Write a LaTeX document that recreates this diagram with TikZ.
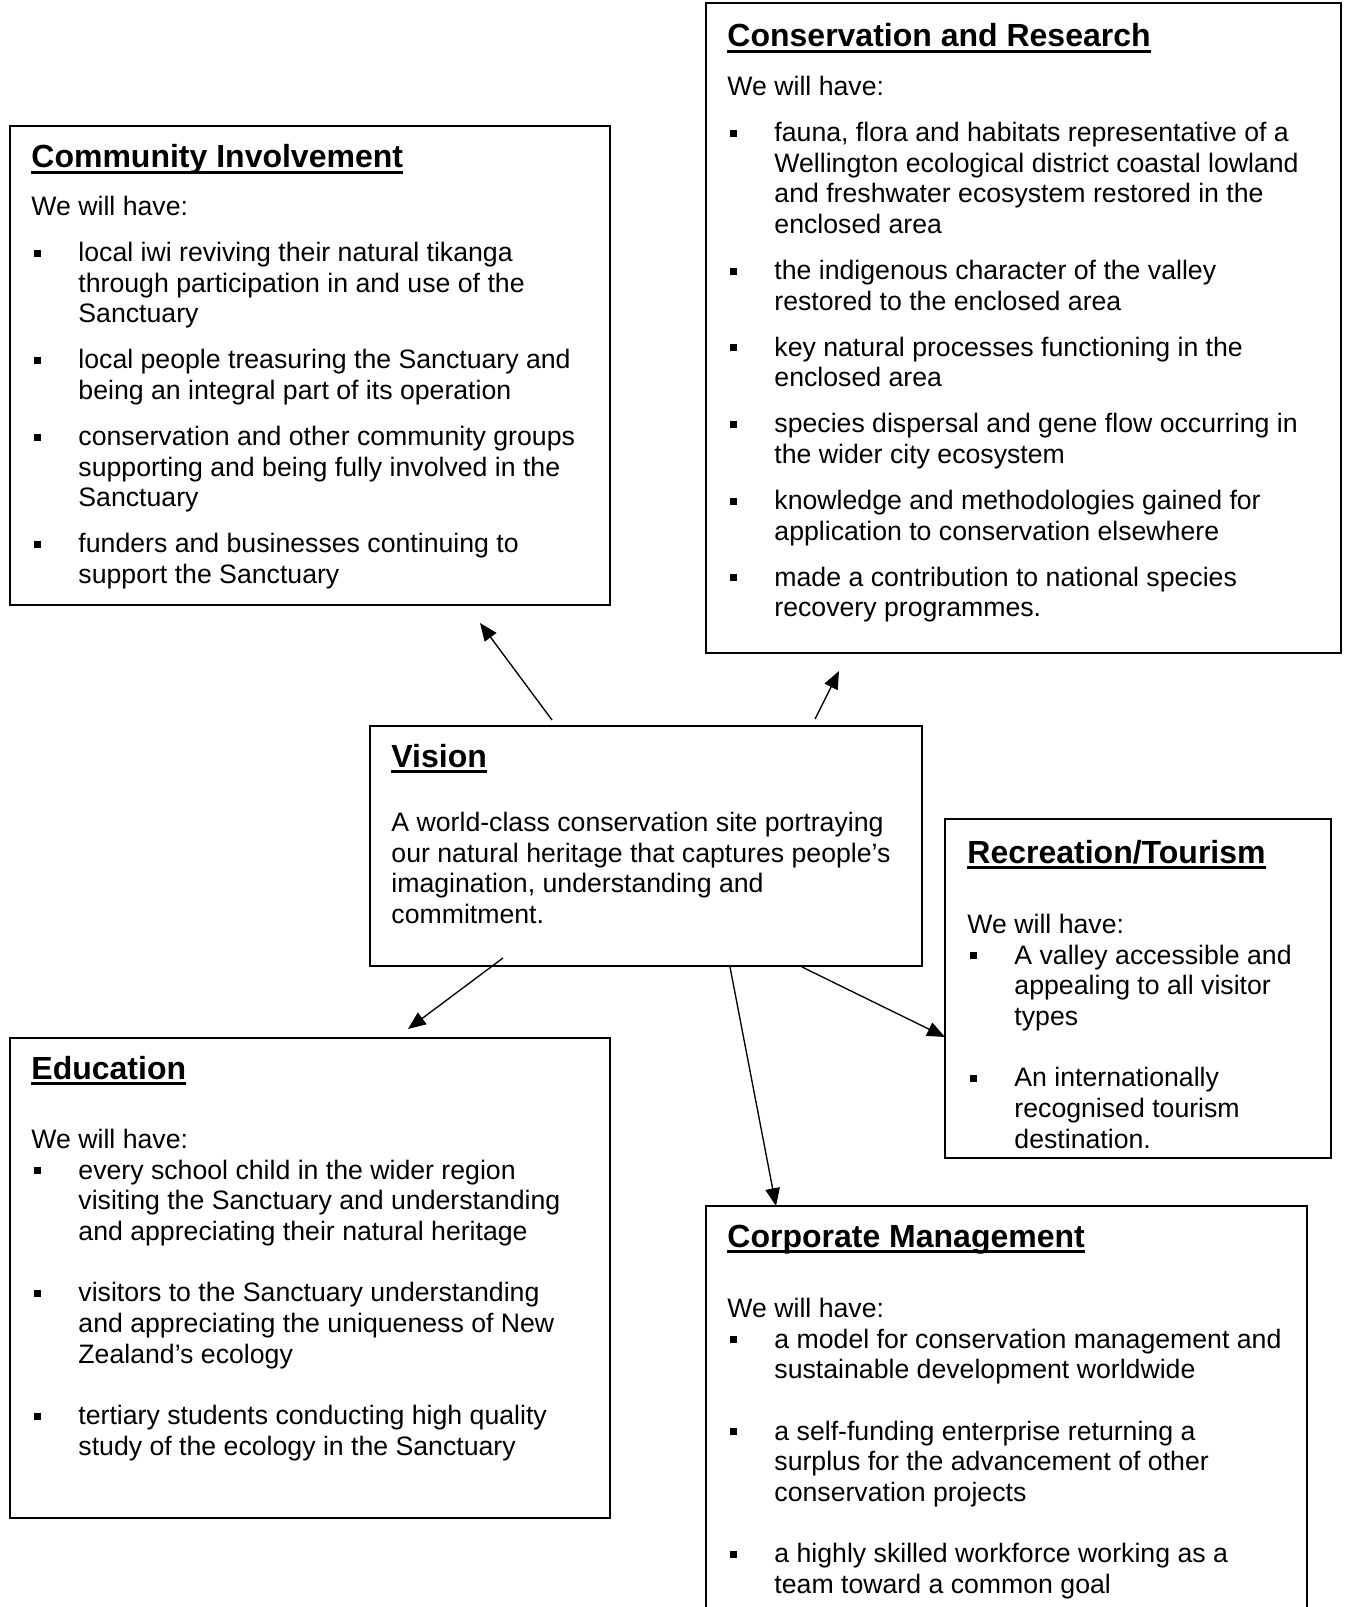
\documentclass[tikz,border=0pt]{standalone}
\usepackage{fontspec}
\setmainfont{Liberation Sans}
\usetikzlibrary{arrows.meta, fit}

% underlined heading, bullet and hanging indent
\newcommand\headline[1]{\setbox0\hbox{#1}\rlap{\rule[-2.6pt]{\wd0}{1.1pt}}\box0}
\newcommand\bul{\makebox[21.15pt][l]{\hspace{1pt}\rule[2.2pt]{3.1pt}{3.1pt}}}
\newcommand\cont{\hspace*{21.15pt}}
\newcommand\topline{\rule{0pt}{10pt}}

\begin{document}
\begin{tikzpicture}[x=0.45pt, y=-0.45pt,
  box/.style={draw, line width=0.8pt, inner sep=0pt},
  head/.style={anchor=base west, inner sep=0pt, font=\fontsize{14.4}{16}\selectfont\bfseries},
  body/.style={anchor=north west, yshift=10pt, inner sep=0pt, align=left, font=\fontsize{12}{13.8}\selectfont},
  arr/.style={-{Triangle[length=8pt, width=6.5pt]}, line width=0.6pt}
]
\useasboundingbox (0,0) rectangle (1345,1607);

% Community Involvement
\node[box, fit={(10,126) (610,605)}] (comm) {};
\node[head] (comm-title) at (31,168) {\headline{Community Involvement}};
\node[body] (comm-body) at (31,215) {\topline We will have:\\[6.9pt]
  \bul local iwi reviving their natural tikanga\\
  \cont through participation in and use of the\\
  \cont Sanctuary\\[6.9pt]
  \bul local people treasuring the Sanctuary and\\
  \cont being an integral part of its operation\\[6.9pt]
  \bul conservation and other community groups\\
  \cont supporting and being fully involved in the\\
  \cont Sanctuary\\[6.9pt]
  \bul funders and businesses continuing to\\
  \cont support the Sanctuary};

% Conservation and Research
\node[box, fit={(706,3) (1341,653)}] (cons) {};
\node[head] (cons-title) at (727,47) {\headline{Conservation and Research}};
\node[body] (cons-body) at (727,95) {\topline We will have:\\[6.9pt]
  \bul fauna, flora and habitats representative of a\\
  \cont Wellington ecological district coastal lowland\\
  \cont and freshwater ecosystem restored in the\\
  \cont enclosed area\\[6.9pt]
  \bul the indigenous character of the valley\\
  \cont restored to the enclosed area\\[6.9pt]
  \bul key natural processes functioning in the\\
  \cont enclosed area\\[6.9pt]
  \bul species dispersal and gene flow occurring in\\
  \cont the wider city ecosystem\\[6.9pt]
  \bul knowledge and methodologies gained for\\
  \cont application to conservation elsewhere\\[6.9pt]
  \bul made a contribution to national species\\
  \cont recovery programmes.};

% Vision
\node[box, fit={(370,726) (922,966)}] (vision) {};
\node[head] (vision-title) at (391,767) {\headline{Vision}};
\node[body] (vision-body) at (391,831) {\topline A world-class conservation site portraying\\
  our natural heritage that captures people’s\\
  imagination, understanding and\\
  commitment.};

% Recreation/Tourism
\node[box, fit={(945,819) (1331,1158)}] (recr) {};
\node[head] (recr-title) at (967,863) {\headline{Recreation/Tourism}};
\node[body] (recr-body) at (967,933) {\topline We will have:\\
  \bul A valley accessible and\\
  \cont appealing to all visitor\\
  \cont types\\[13.8pt]
  \bul An internationally\\
  \cont recognised tourism\\
  \cont destination.};

% Education
\node[box, fit={(10,1038) (610,1518)}] (educ) {};
\node[head] (educ-title) at (31,1079) {\headline{Education}};
\node[body] (educ-body) at (31,1148) {\topline We will have:\\
  \bul every school child in the wider region\\
  \cont visiting the Sanctuary and understanding\\
  \cont and appreciating their natural heritage\\[13.8pt]
  \bul visitors to the Sanctuary understanding\\
  \cont and appreciating the uniqueness of New\\
  \cont Zealand’s ecology\\[13.8pt]
  \bul tertiary students conducting high quality\\
  \cont study of the ecology in the Sanctuary};

% Corporate Management
\node[box, fit={(706,1206) (1307,1660)}] (corp) {};
\node[head] (corp-title) at (727,1247) {\headline{Corporate Management}};
\node[body] (corp-body) at (727,1317) {\topline We will have:\\
  \bul a model for conservation management and\\
  \cont sustainable development worldwide\\[13.8pt]
  \bul a self-funding enterprise returning a\\
  \cont surplus for the advancement of other\\
  \cont conservation projects\\[13.8pt]
  \bul a highly skilled workforce working as a\\
  \cont team toward a common goal};

% Arrow ends
\coordinate (v-comm) at (552,720);
\coordinate (comm-in) at (480,623);
\coordinate (v-cons) at (815,719);
\coordinate (cons-in) at (839,671);
\coordinate (v-educ) at (503,958);
\coordinate (educ-in) at (408,1029);
\coordinate (v-corp) at (730,967);
\coordinate (corp-in) at (776,1206);
\coordinate (v-recr) at (802,967);
\coordinate (recr-in) at (945,1037);

% Draw arrows
\foreach \a/\b in {v-comm/comm-in, v-cons/cons-in, v-educ/educ-in, v-corp/corp-in, v-recr/recr-in}{
  \draw[arr] (\a) -- (\b);
}

\end{tikzpicture}
\end{document}
